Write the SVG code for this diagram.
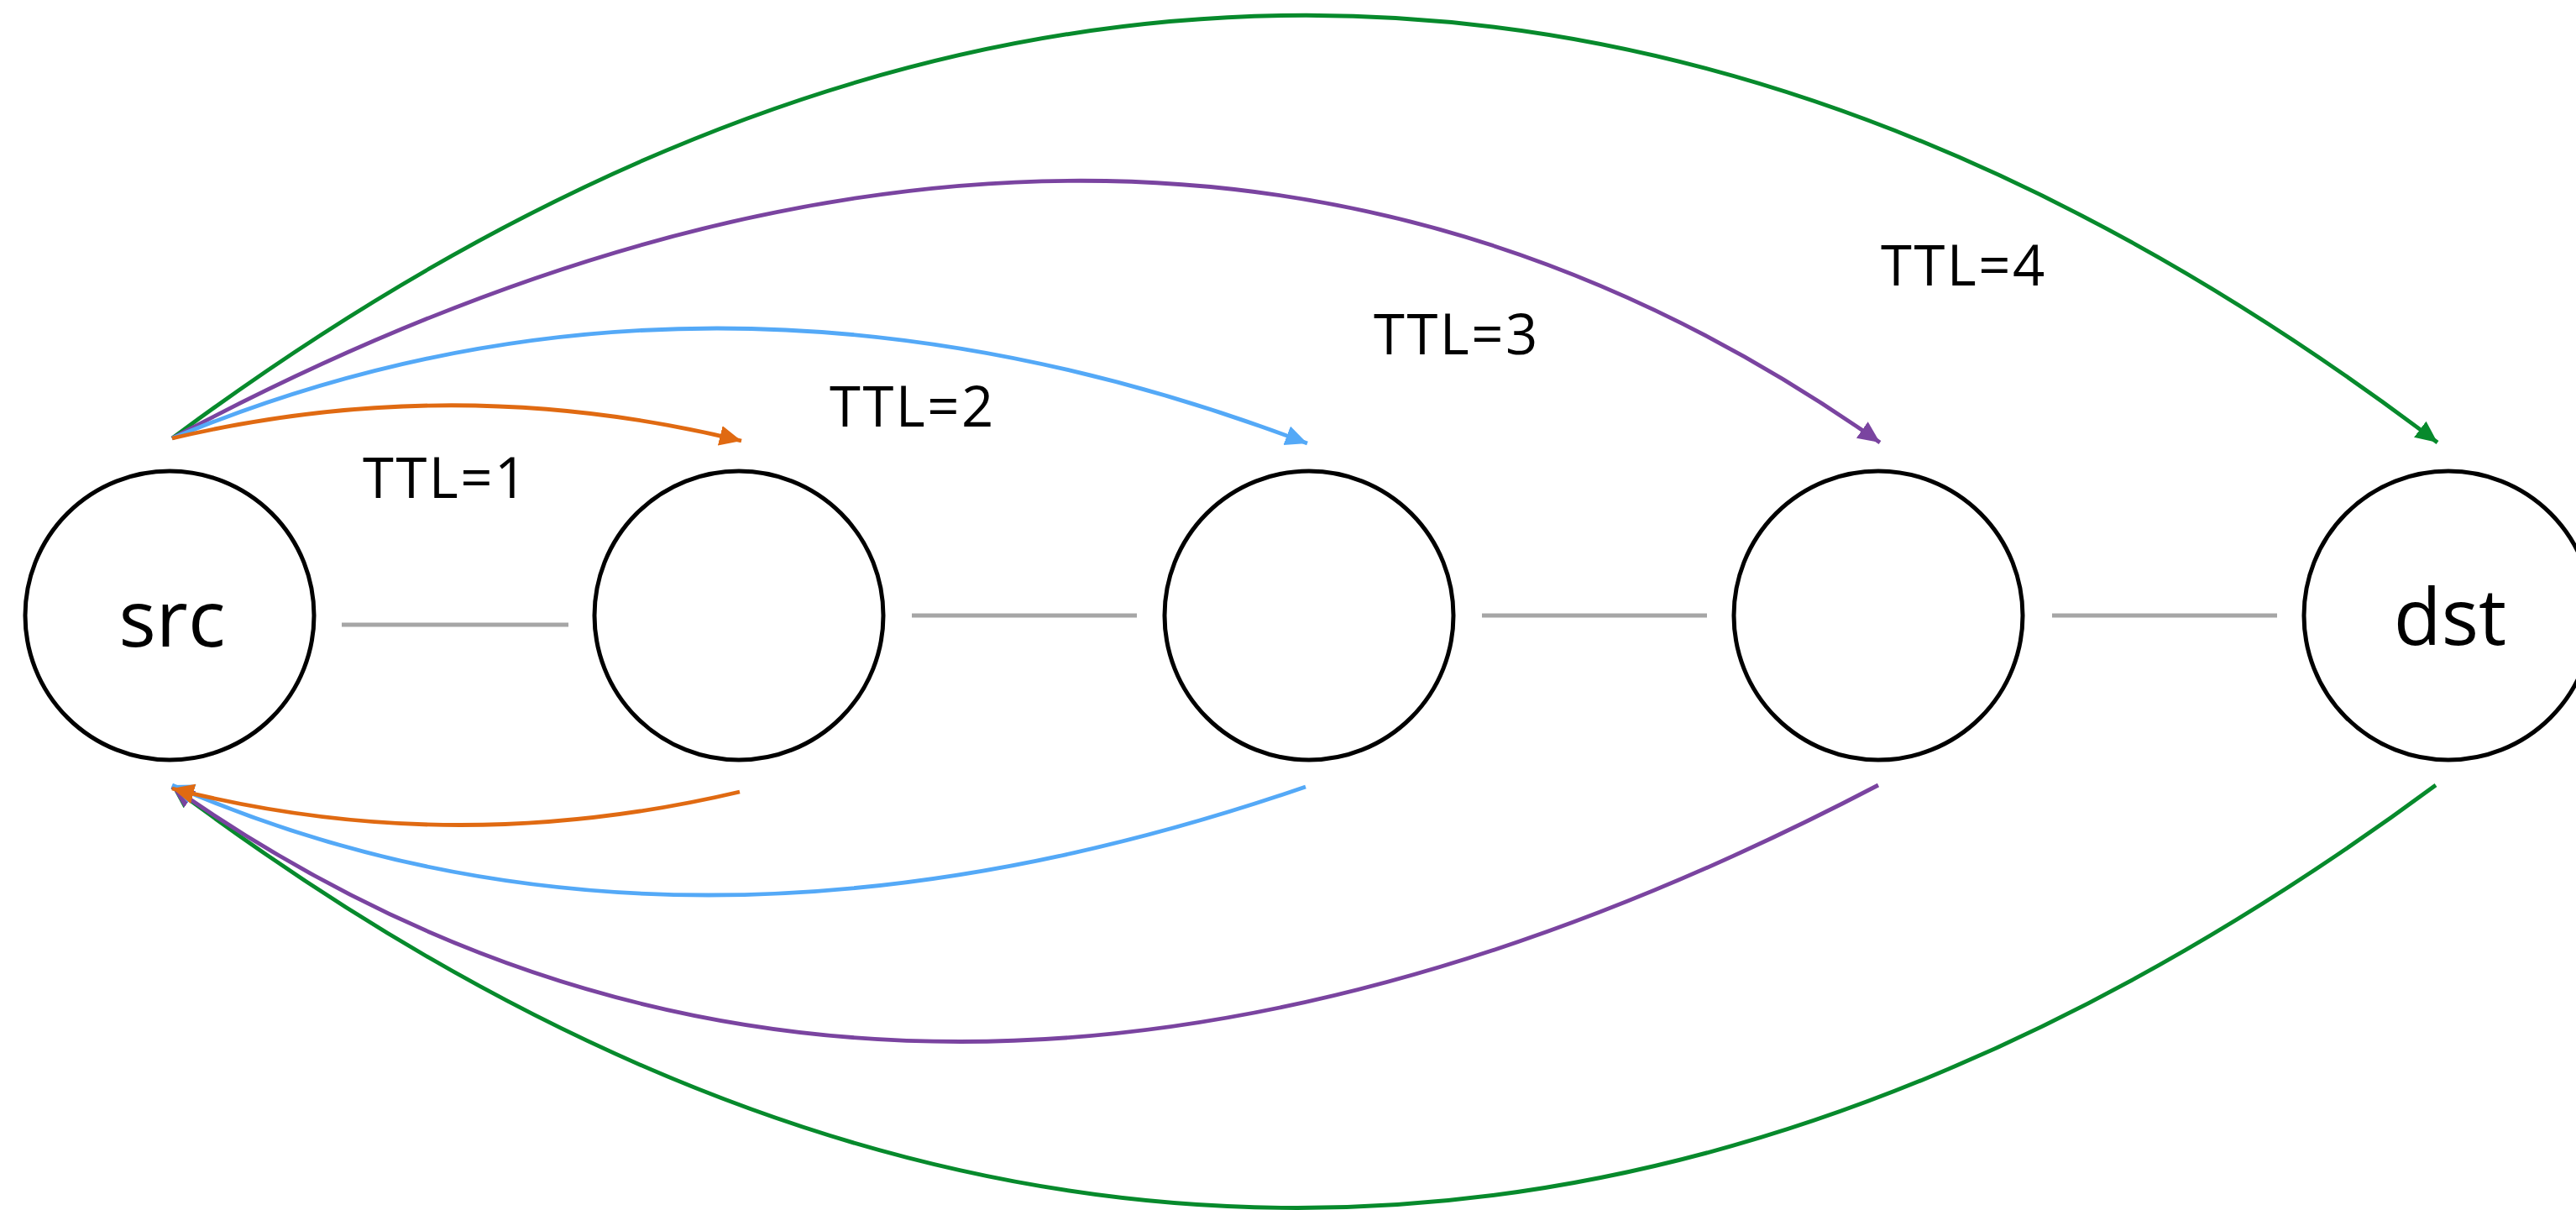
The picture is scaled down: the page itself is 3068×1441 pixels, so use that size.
<svg xmlns="http://www.w3.org/2000/svg" width="3068" height="1441" viewBox="0 0 3068 1441">
<style>
.node{fill:#fff;stroke:#000;stroke-width:5}
.lbl{font-family:"Open Sans","Noto Sans",sans-serif;font-size:93px;fill:#000;text-anchor:middle}
.ttl{font-family:"Open Sans","Noto Sans",sans-serif;font-size:67px;letter-spacing:2.5px;fill:#000}
.link{stroke:#a6a6a6;stroke-width:5;fill:none}
.c{fill:none;stroke-width:4.8}
.or{stroke:#e06a12}.bl{stroke:#54a9f7}.pu{stroke:#7a44a0}.gr{stroke:#078a2c}
</style>
<defs>
<marker id="aor" markerUnits="userSpaceOnUse" markerWidth="28" markerHeight="26" refX="26" refY="12" orient="auto"><path d="M0,0 L26,12 L0,24 z" fill="#e06a12"/></marker>
<marker id="abl" markerUnits="userSpaceOnUse" markerWidth="28" markerHeight="26" refX="26" refY="12" orient="auto"><path d="M0,0 L26,12 L0,24 z" fill="#54a9f7"/></marker>
<marker id="apu" markerUnits="userSpaceOnUse" markerWidth="28" markerHeight="26" refX="26" refY="12" orient="auto"><path d="M0,0 L26,12 L0,24 z" fill="#7a44a0"/></marker>
<marker id="agr" markerUnits="userSpaceOnUse" markerWidth="28" markerHeight="26" refX="26" refY="12" orient="auto"><path d="M0,0 L26,12 L0,24 z" fill="#078a2c"/></marker>
</defs>
<g id="links">
<line class="link" x1="407" y1="744" x2="677" y2="744"/>
<line class="link" x1="1086" y1="733" x2="1354" y2="733"/>
<line class="link" x1="1765" y1="733" x2="2033" y2="733"/>
<line class="link" x1="2444" y1="733" x2="2712" y2="733"/>
</g>
<g id="node-src"><circle class="node" cx="202" cy="733" r="172"/><text class="lbl" x="205" y="770">src</text></g>
<g id="node-2"><circle class="node" cx="880" cy="733" r="172"/></g>
<g id="node-3"><circle class="node" cx="1559" cy="733" r="172"/></g>
<g id="node-4"><circle class="node" cx="2237" cy="733" r="172"/></g>
<g id="node-dst"><circle class="node" cx="2916" cy="733" r="172"/><text class="lbl" x="2918" y="768">dst</text></g>
<g id="connectors">
<path class="c gr" d="M205,522 Q1564,-488 2903,527" marker-end="url(#agr)"/>
<path class="c pu" d="M205,522 Q1360,-94 2239,527" marker-end="url(#apu)"/>
<path class="c bl" d="M205,522 Q842,257 1557,528" marker-end="url(#abl)"/>
<path class="c or" d="M205,522 Q544,442 883,525" marker-end="url(#aor)"/>
<path class="c gr" d="M2901,935 Q1540,1941 205,937" marker-end="url(#agr)"/>
<path class="c pu" d="M2237,935 Q1070,1545 205,937" marker-end="url(#apu)"/>
<path class="c bl" d="M1555,937 Q802,1196 205,935" marker-end="url(#abl)"/>
<path class="c or" d="M881,943 Q537,1024 205,939" marker-end="url(#aor)"/>
</g>
<g id="labels">
<text class="ttl" x="432" y="593">TTL=1</text>
<text class="ttl" x="988" y="508">TTL=2</text>
<text class="ttl" x="1636" y="422">TTL=3</text>
<text class="ttl" x="2240" y="340">TTL=4</text>
</g>
</svg>
